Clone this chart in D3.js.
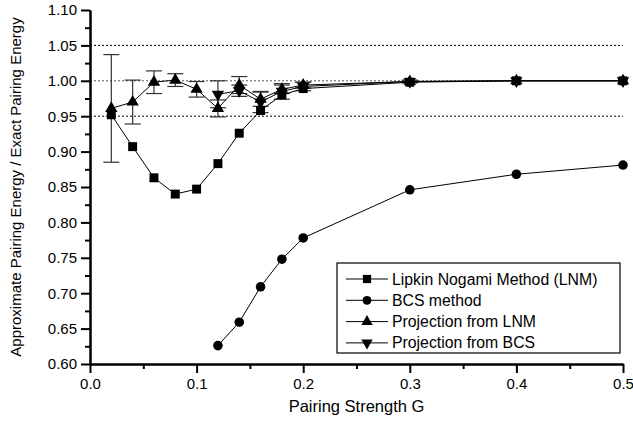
<!DOCTYPE html>
<html><head><meta charset="utf-8">
<script src="https://cdn.jsdelivr.net/npm/d3@7"></script>
<style>body{margin:0;background:#fff}svg{display:block}text{font-family:"Liberation Sans",Arial,sans-serif}</style>
</head><body><svg id="c" width="633" height="428"></svg>
<script>
const gLNM = [0.02,0.04,0.06,0.08,0.10,0.12,0.14,0.16,0.18,0.20,0.30,0.40,0.50];
const vLNM = [0.952,0.907,0.863,0.840,0.847,0.883,0.926,0.958,0.980,0.989,0.998,1.000,1.000];
const gBCS = [0.12,0.14,0.16,0.18,0.20,0.30,0.40,0.50];
const vBCS = [0.626,0.659,0.709,0.748,0.778,0.846,0.868,0.881];
const gPL = [0.02,0.04,0.06,0.08,0.10,0.12,0.14,0.16,0.18,0.20,0.30,0.40,0.50];
const vPL = [0.961,0.970,0.998,1.001,0.988,0.961,0.994,0.974,0.988,0.994,0.999,1.000,1.000];
const ePL = [0.076,0.031,0.016,0.009,0.011,0.012,0.012,0.010,0.006,0.004,0.001,0.000,0.000];
const gPB = [0.12,0.14,0.16,0.18,0.20,0.30,0.40,0.50];
const vPB = [0.981,0.986,0.970,0.985,0.992,0.999,1.000,1.000];
const ePB = [0.019,0.008,0.015,0.011,0.006,0.002,0.000,0.000];
const refLines = [1.05,1.00,0.95];
const xTicks = [0,0.1,0.2,0.3,0.4,0.5];
const yTicks = [0.60,0.65,0.70,0.75,0.80,0.85,0.90,0.95,1.00,1.05,1.10];
const legendLabels = ["Lipkin Nogami Method (LNM)","BCS method","Projection from LNM","Projection from BCS"];

const svg = d3.select("#c");
const x = d3.scaleLinear().domain([0,0.5]).range([90,623]);
const y = d3.scaleLinear().domain([0.6,1.1]).range([364,10]);

svg.selectAll("line.ref").data(refLines).enter().append("line")
  .attr("x1",x(0)).attr("x2",x(0.5)).attr("y1",d=>y(d)).attr("y2",d=>y(d))
  .attr("stroke",(d)=>d===1?"#555":"#000").attr("stroke-width",1).attr("stroke-dasharray","2,2");

const xAx = svg.append("g").attr("transform",`translate(0,${y(0.6)})`)
  .call(d3.axisBottom(x).tickValues(xTicks).tickFormat(d3.format(".1f")).tickSize(9).tickSizeOuter(0));
const xMin = svg.append("g").attr("transform",`translate(0,${y(0.6)})`)
  .call(d3.axisBottom(x).tickValues([0.05,0.15,0.25,0.35,0.45]).tickFormat("").tickSize(5).tickSizeOuter(0));
const yAx = svg.append("g").attr("transform",`translate(${x(0)},0)`)
  .call(d3.axisLeft(y).tickValues(yTicks).tickFormat(d3.format(".2f")).tickSize(9).tickSizeOuter(0));
const yMin = svg.append("g").attr("transform",`translate(${x(0)},0)`)
  .call(d3.axisLeft(y).tickValues(d3.range(0.625,1.1,0.05)).tickFormat("").tickSize(5).tickSizeOuter(0));
[xAx,xMin,yAx,yMin].forEach(g=>{
  g.select(".domain").attr("stroke","#000").attr("stroke-width",2);
  g.selectAll(".tick line").attr("stroke","#000").attr("stroke-width",2);
});
xAx.selectAll(".tick text").attr("font-size",15).attr("y",14).attr("dy","0.71em").attr("fill","#000");
yAx.selectAll(".tick text").attr("font-size",15).attr("x",-13).attr("fill","#000");

svg.append("text").attr("x",(x(0)+x(0.5))/2).attr("y",412).attr("text-anchor","middle")
  .attr("font-size",16.5).text("Pairing Strength G");
svg.append("text").attr("transform",`translate(21,${(y(0.6)+y(1.1))/2}) rotate(-90)`)
  .attr("text-anchor","middle").attr("font-size",15).text("Approximate Pairing Energy / Exact Pairing Energy");

const line = d3.line().x(d=>x(d[0])).y(d=>y(d[1]));
function series(gs, vs){ return gs.map((g,i)=>[g,vs[i]]); }
const sLNM = series(gLNM,vLNM), sBCS=series(gBCS,vBCS), sPL=series(gPL,vPL), sPB=series(gPB,vPB);

function errBars(gs,vs,es){
  const g = svg.append("g").attr("stroke","#333").attr("stroke-width",1.2);
  gs.forEach((gv,i)=>{
    if(es[i]<=0) return;
    const xc=x(gv), y1=y(vs[i]+es[i]), y2=y(vs[i]-es[i]);
    g.append("line").attr("x1",xc).attr("x2",xc).attr("y1",y1).attr("y2",y2);
    g.append("line").attr("x1",xc-8).attr("x2",xc+8).attr("y1",y1).attr("y2",y1);
    g.append("line").attr("x1",xc-8).attr("x2",xc+8).attr("y1",y2).attr("y2",y2);
  });
}
errBars(gPL,vPL,ePL);
errBars(gPB,vPB,ePB);

[sLNM,sBCS,sPL,sPB].forEach(s=>svg.append("path").datum(s).attr("d",line)
  .attr("fill","none").attr("stroke","#000").attr("stroke-width",1));

const sym = [d3.symbolSquare,d3.symbolCircle,d3.symbolTriangle,d3.symbolTriangle];
const sizes = [80,72,66,66];
const rots = [0,0,0,180];
function markers(s,k){
  svg.append("g").selectAll("path").data(s).enter().append("path")
    .attr("d",d3.symbol().type(sym[k]).size(sizes[k]))
    .attr("transform",d=>`translate(${x(d[0])},${y(d[1])}) rotate(${rots[k]})`)
    .attr("fill","#000");
}
markers(sLNM,0); markers(sBCS,1); markers(sPL,2); markers(sPB,3);

const lg = svg.append("g");
lg.append("rect").attr("x",337).attr("y",263).attr("width",283).attr("height",90)
  .attr("fill","#fff").attr("stroke","#000").attr("stroke-width",1.2);
legendLabels.forEach((t,i)=>{
  const yy = 279 + i*21.3;
  lg.append("line").attr("x1",346).attr("x2",388).attr("y1",yy).attr("y2",yy).attr("stroke","#000");
  lg.append("path").attr("d",d3.symbol().type(sym[i]).size(sizes[i]*0.85))
    .attr("transform",`translate(367,${yy}) rotate(${rots[i]})`).attr("fill","#000");
  lg.append("text").attr("x",392).attr("y",yy).attr("dy","0.35em").attr("font-size",15.8).text(t);
});
</script></body></html>
